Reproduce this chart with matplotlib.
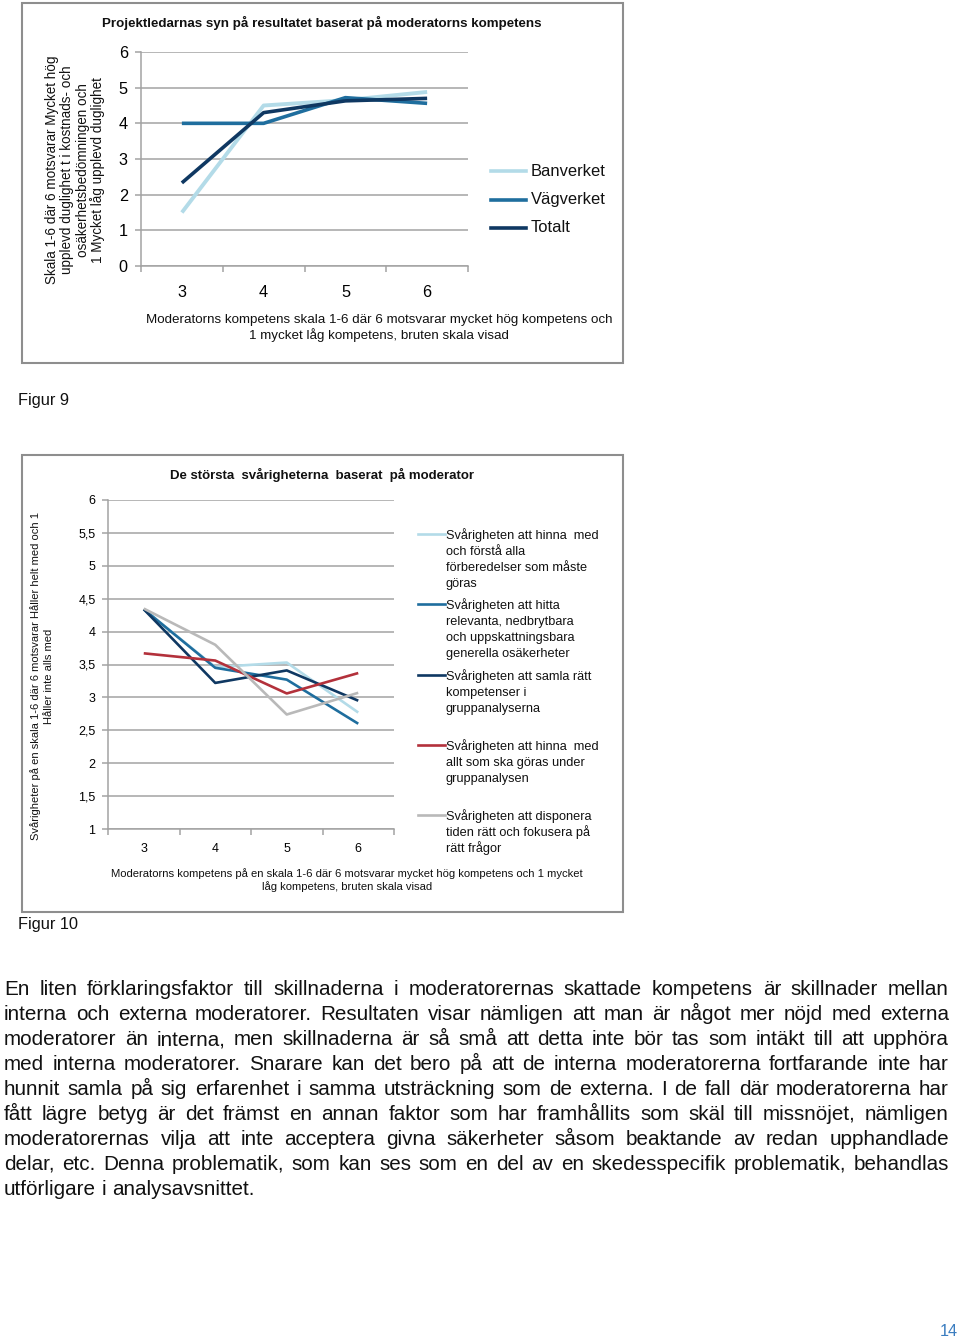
import matplotlib
matplotlib.use('Agg')
import matplotlib.pyplot as plt
from matplotlib.patches import Rectangle
from matplotlib.lines import Line2D

plt.rcParams['font.family'] = ['Liberation Sans', 'DejaVu Sans']

W, H = 960, 1340

# ---------------- data ----------------
c1_categories = ['3', '4', '5', '6']
c1_banverket = [1.5, 4.5, 4.65, 4.88]
c1_vagverket = [4.0, 4.0, 4.72, 4.56]
c1_totalt = [2.33, 4.30, 4.63, 4.70]
c1_series_names = ['Banverket', 'Vägverket', 'Totalt']
c1_yticks = [0, 1, 2, 3, 4, 5, 6]

c2_categories = ['3', '4', '5', '6']
c2_s1 = [4.34, 3.46, 3.53, 2.77]
c2_s2 = [4.34, 3.45, 3.27, 2.60]
c2_s3 = [4.34, 3.22, 3.41, 2.95]
c2_s4 = [3.67, 3.56, 3.06, 3.37]
c2_s5 = [4.35, 3.80, 2.74, 3.07]
c2_series_names = [
    ['Svårigheten att hinna  med', 'och förstå alla', 'förberedelser som måste', 'göras'],
    ['Svårigheten att hitta', 'relevanta, nedbrytbara', 'och uppskattningsbara', 'generella osäkerheter'],
    ['Svårigheten att samla rätt', 'kompetenser i', 'gruppanalyserna'],
    ['Svårigheten att hinna  med', 'allt som ska göras under', 'gruppanalysen'],
    ['Svårigheten att disponera', 'tiden rätt och fokusera på', 'rätt frågor'],
]
c2_yticks = [1, 1.5, 2, 2.5, 3, 3.5, 4, 4.5, 5, 5.5, 6]
c2_ytick_labels = ['1', '1,5', '2', '2,5', '3', '3,5', '4', '4,5', '5', '5,5', '6']

body_lines = [
    "En liten förklaringsfaktor till skillnaderna i moderatorernas skattade kompetens är skillnader mellan",
    "interna och externa moderatorer. Resultaten visar nämligen att man är något mer nöjd med externa",
    "moderatorer än interna, men skillnaderna är så små att detta inte bör tas som intäkt till att upphöra",
    "med interna moderatorer. Snarare kan det bero på att de interna moderatorerna fortfarande inte har",
    "hunnit samla på sig erfarenhet i samma utsträckning som de externa. I de fall där moderatorerna har",
    "fått lägre betyg är det främst en annan faktor som har framhållits som skäl till missnöjet, nämligen",
    "moderatorernas vilja att inte acceptera givna säkerheter såsom beaktande av redan upphandlade",
    "delar, etc. Denna problematik, som kan ses som en del av en skedesspecifik problematik, behandlas",
    "utförligare i analysavsnittet.",
]

COL_LIGHT = '#b3dbe8'
COL_MID = '#1f6e9e'
COL_DARK = '#0f3862'
COL_RED = '#b3313b'
COL_GRAY = '#b9b9b9'
GRID = '#a3a3a3'

fig = plt.figure(figsize=(W / 100, H / 100), dpi=100)
fig.patch.set_facecolor('white')
renderer = fig.canvas.get_renderer()


def fxy(x, y):
    return x / W, 1 - y / H


def width_of(t):
    return t.get_window_extent(renderer).width


def fit_text(x, y, s, target_w, fs0=10, rotation=0, **kw):
    t = fig.text(*fxy(x, y), s, fontsize=fs0, **kw)
    w = width_of(t)
    fs = fs0 * target_w / w
    t.set_fontsize(fs)
    t.set_rotation(rotation)
    return t, fs


def add_ax(left, top, right, bottom):
    return fig.add_axes([left / W, 1 - bottom / H, (right - left) / W, (bottom - top) / H])


def style_ax(ax, ylim, yticks, ylabels, xlabels, fs_tick, xpad, ypad):
    ax.set_xlim(-0.5, 3.5)
    ax.set_ylim(*ylim)
    for s in ['top', 'right']:
        ax.spines[s].set_visible(False)
    for s in ['left', 'bottom']:
        ax.spines[s].set_color(GRID)
        ax.spines[s].set_linewidth(1.1)
    ax.set_yticks(yticks)
    ax.set_yticklabels(ylabels)
    ax.yaxis.grid(True, color=GRID, linewidth=1.1)
    ax.set_axisbelow(True)
    ax.set_xticks(range(len(xlabels)))
    ax.set_xticklabels(xlabels)
    ax.set_xticks([-0.5, 0.5, 1.5, 2.5, 3.5], minor=True)
    ax.tick_params(axis='x', which='major', length=0, pad=xpad, labelsize=fs_tick)
    ax.tick_params(axis='x', which='minor', length=4, width=1.1, color=GRID, direction='out')
    ax.tick_params(axis='y', length=4, width=1.1, color=GRID, direction='out', pad=ypad,
                   labelsize=fs_tick)
    ax.set_facecolor('none')


# ---------------- boxes ----------------
for (x0, y0, x1, y1) in [(22, 3, 623, 363), (22, 455, 623, 912)]:
    fig.add_artist(Rectangle(fxy(x0, y1), (x1 - x0) / W, (y1 - y0) / H,
                             transform=fig.transFigure, fill=False,
                             edgecolor='#8e8e8e', linewidth=1.5))

# ---------------- chart 1 ----------------
ax1 = add_ax(141, 52, 468, 266)
style_ax(ax1, (0, 6), c1_yticks, [str(v) for v in c1_yticks], c1_categories, 11.7, 14, 5.5)
xs = range(len(c1_categories))
ax1.plot(xs, c1_banverket, color=COL_LIGHT, lw=2.8, solid_capstyle='butt')
ax1.plot(xs, c1_vagverket, color=COL_MID, lw=2.6, solid_capstyle='butt')
ax1.plot(xs, c1_totalt, color=COL_DARK, lw=2.6, solid_capstyle='butt')

fit_text(322, 23, 'Projektledarnas syn på resultatet baserat på moderatorns kompetens', 443,
         fontweight='bold', ha='center', va='center', color='#111111')

t, fsx1 = fit_text(379, 320, 'Moderatorns kompetens skala 1-6 där 6 motsvarar mycket hög kompetens och',
                   468, ha='center', va='center', color='#111111')
fig.text(*fxy(379, 335), '1 mycket låg kompetens, bruten skala visad', fontsize=fsx1,
         ha='center', va='center', color='#111111')

c1_ylab = ['Skala 1-6 där 6 motsvarar Mycket hög', 'upplevd duglighet t i kostnads- och',
           'osäkerhetsbedömningen och', '1 Mycket låg upplevd duglighet']
t, fsy1 = fit_text(52, 170, c1_ylab[0], 230, ha='center', va='center', rotation=90,
                   color='#111111')
for i, s in enumerate(c1_ylab[1:]):
    fig.text(*fxy(52 + 15.3 * (i + 1), 170), s, fontsize=fsy1, rotation=90,
             ha='center', va='center', color='#111111')

for i, (name, col) in enumerate(zip(c1_series_names, [COL_LIGHT, COL_MID, COL_DARK])):
    y = 171 + 28.5 * i
    fig.add_artist(Line2D([491 / W, 526 / W], [1 - y / H] * 2, color=col, lw=2.6,
                          transform=fig.transFigure))
    fig.text(*fxy(531, y), name, fontsize=11.9, ha='left', va='center', color='#111111')

# ---------------- chart 2 ----------------
ax2 = add_ax(108, 500, 394, 829)
style_ax(ax2, (1, 6), c2_yticks, c2_ytick_labels, c2_categories, 9, 10, 5)
xs = range(len(c2_categories))
for vals, col in zip([c2_s1, c2_s2, c2_s3, c2_s4, c2_s5],
                     [COL_LIGHT, COL_MID, COL_DARK, COL_RED, COL_GRAY]):
    ax2.plot(xs, vals, color=col, lw=1.9, solid_capstyle='butt')

fit_text(322, 475, 'De största  svårigheterna  baserat  på moderator', 307,
         fontweight='bold', ha='center', va='center', color='#111111')

t, fsx2 = fit_text(347, 874,
                   'Moderatorns kompetens på en skala 1-6 där 6 motsvarar mycket hög kompetens och 1 mycket',
                   472, ha='center', va='center', color='#111111')
fig.text(*fxy(347, 887), 'låg kompetens, bruten skala visad', fontsize=fsx2,
         ha='center', va='center', color='#111111')

t, fsy2 = fit_text(36, 676, 'Svårigheter på en skala 1-6 där 6 motsvarar Håller helt med och 1', 328,
                   ha='center', va='center', rotation=90, color='#111111')
fig.text(*fxy(48.5, 676), 'Håller inte alls med', fontsize=fsy2, rotation=90,
         ha='center', va='center', color='#111111')

leg_y = [535, 605, 676, 746, 816]
for lines, col, y0 in zip(c2_series_names, [COL_LIGHT, COL_MID, COL_DARK, COL_RED, COL_GRAY], leg_y):
    fig.add_artist(Line2D([418 / W, 445 / W], [1 - (y0 - 1) / H] * 2, color=col, lw=1.9,
                          transform=fig.transFigure))
    for j, s in enumerate(lines):
        fig.text(*fxy(446, y0 + 16.1 * j + 4), s, fontsize=9.2, ha='left', va='baseline',
                 color='#111111')

# ---------------- captions ----------------
t, fscap = fit_text(18, 400, 'Figur 9', 51, ha='left', va='center', color='#111111')
fig.text(*fxy(18, 924), 'Figur 10', fontsize=fscap, ha='left', va='center', color='#111111')
fig.text(*fxy(958, 1332), '14', fontsize=fscap, ha='right', va='center', color='#3b7dc0')

# ---------------- body text (justified) ----------------
tmp, fsb = fit_text(4, 1195, body_lines[-1], 251, ha='left', va='baseline')
tmp.remove()
left, right = 4, 949
space_w = 0.278 * fsb * 100 / 72
for i, line in enumerate(body_lines):
    y = 995 + 25 * i
    words = line.split(' ')
    texts = [fig.text(*fxy(0, y), w, fontsize=fsb, ha='left', va='baseline', color='#111111')
             for w in words]
    widths = [width_of(t) for t in texts]
    if i < len(body_lines) - 1 and len(words) > 1:
        gap = (right - left - sum(widths)) / (len(words) - 1)
    else:
        gap = space_w
    x = left
    for t, w in zip(texts, widths):
        t.set_x(x / W)
        x += w + gap

fig.savefig('out.png', dpi=100)
